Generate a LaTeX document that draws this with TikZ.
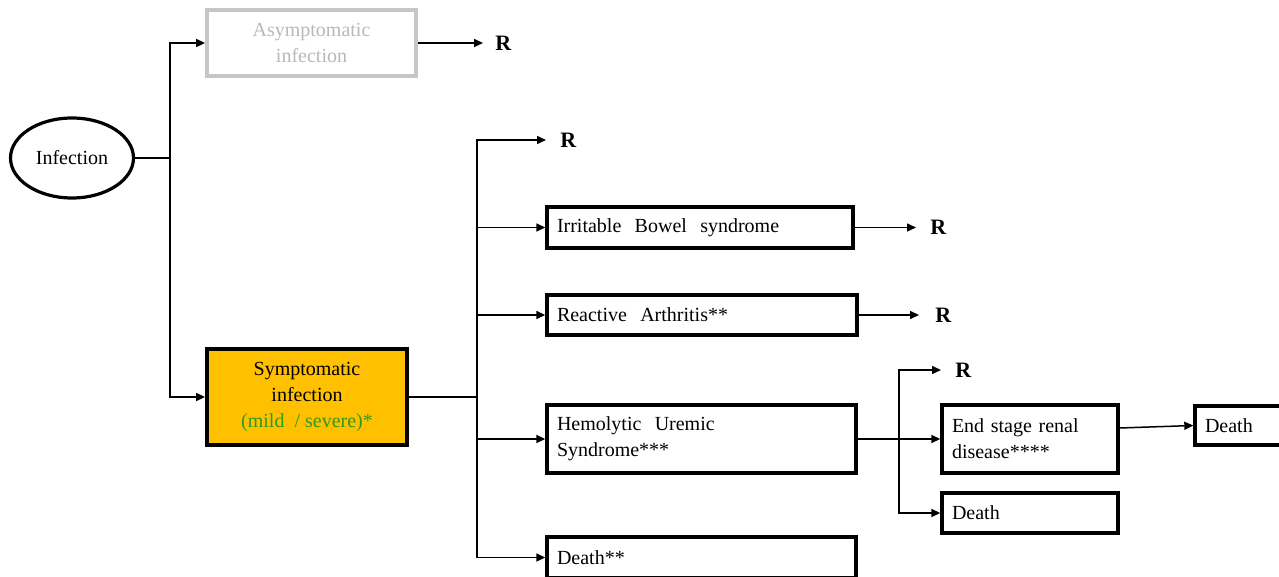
\documentclass[tikz,border=0pt]{standalone}
\usepackage{fontspec}
\setmainfont{Liberation Serif}
\usetikzlibrary{shapes.geometric,arrows.meta,calc}
\definecolor{symfill}{HTML}{FFC000}
\definecolor{mildgreen}{HTML}{2F9A1F}
\definecolor{faintline}{HTML}{C6C6C6}
\definecolor{fainttext}{HTML}{B8B8B8}
\begin{document}
\begin{tikzpicture}[x=0.5pt,y=-0.5pt,
  font=\fontsize{10}{13}\selectfont,
  stagebox/.style={draw, line width=1.7pt, rectangle, inner xsep=5pt, inner ysep=0pt, align=left},
  conn/.style={line width=0.75pt},
  arr/.style={conn, -{Triangle[length=4.5pt,width=4pt]}},
  rlabel/.style={font=\fontsize{11}{12}\selectfont\bfseries, inner sep=0pt, anchor=west},
]
\useasboundingbox (0,0) rectangle (1279,577);
\clip (0,0) rectangle (1279,577);

% start of the pathway
\node[draw, ellipse, line width=1.6pt, minimum width=61.5pt, minimum height=40pt, inner sep=0pt] (inf) at (72,158) {Infection};

% first split
\node[draw=faintline, line width=1.9pt, rectangle, minimum width=104.5pt, minimum height=33pt, inner sep=0pt, align=center, text=fainttext] (asym) at (311.5,43) {Asymptomatic\\infection};
\node[draw, fill=symfill, line width=1.9pt, rectangle, minimum width=100pt, minimum height=48pt, inner sep=0pt, align=center] (sym) at (307,397) {\raisebox{-1.5pt}{\parbox{95pt}{\centering Symptomatic\\infection\\\textcolor{mildgreen}{(mild~~/ severe)*}}}};

% sequelae of symptomatic infection
\node[stagebox, minimum width=153pt, text width=143pt, minimum height=20.5pt] (ibs) at (700,227.5) {Irritable~~Bowel~~syndrome};
\node[stagebox, minimum width=155pt, text width=145pt, minimum height=20pt] (ra) at (702,315) {Reactive~~Arthritis**};
\node[stagebox, minimum width=154.5pt, text width=144.5pt, minimum height=34pt] (hus) at (701.5,439) {Hemolytic~~Uremic\\Syndrome***};
\node[stagebox, minimum width=154.5pt, text width=144.5pt, minimum height=20.5pt] (d1) at (701.5,557.5) {Death**};

% outcomes of HUS
\node[stagebox, minimum width=88pt, text width=78pt, minimum height=34pt] (esrd) at (1030,439) {End stage renal\\disease****};
\node[stagebox, minimum width=88pt, text width=78pt, minimum height=20pt] (d2) at (1030,513) {Death};
\node[stagebox, minimum width=55pt, text width=45pt, minimum height=19.5pt] (d3) at (1250,425.5) {Death};

% recovery labels
\node[rlabel] (r1) at (495,43) {R};
\node[rlabel] (r2) at (560,140) {R};
\node[rlabel] (r3) at (930,227.5) {R};
\node[rlabel] (r4) at (935,315) {R};
\node[rlabel] (r5) at (955,370) {R};

% junction points
\coordinate (j1) at (170,158);
\coordinate (j2) at (477,397);
\coordinate (j3) at (899,439);

% connectors
\draw[conn] (inf.east) -- (j1);
\draw[arr] (j1) |- (asym.west);
\draw[arr] (j1) |- (sym.west);
\draw[arr] (asym.east) -- ([xshift=-6pt]r1.west);

\draw[conn] (sym.east) -- (j2);
\draw[arr] (j2) |- ([xshift=-7pt]r2.west);
\draw[arr] (j2) |- (ibs.west);
\draw[arr] (j2) |- (ra.west);
\draw[arr] (j2) |- (hus.west);
\draw[arr] (j2) |- (d1.west);

\draw[arr] (ibs.east) -- ([xshift=-7pt]r3.west);
\draw[arr] (ra.east) -- ([xshift=-8pt]r4.west);

\draw[conn] (hus.east) -- (j3);
\draw[arr] (j3) |- ([xshift=-7pt]r5.west);
\draw[arr] (j3) -- (esrd.west);
\draw[arr] (j3) |- (d2.west);

\draw[arr] ([yshift=5.5pt]esrd.east) -- (d3.west);
\end{tikzpicture}
\end{document}
